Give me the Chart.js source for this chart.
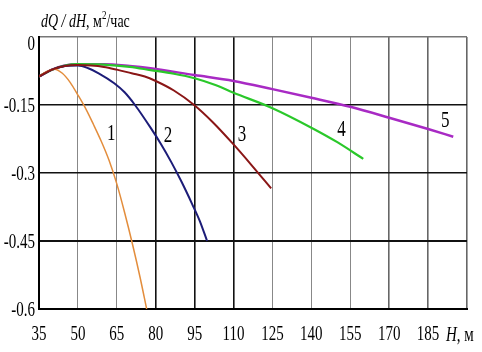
<!DOCTYPE html>
<html>
<head>
<meta charset="utf-8">
<script src="https://cdn.jsdelivr.net/npm/chart.js@4.4.0/dist/chart.umd.min.js"></script>
<style>
  body { margin: 0; background: #fff; }
  canvas { display: block; }
</style>
</head>
<body>
<canvas id="chart" width="482" height="352"></canvas>
<script>
// H, m (x) and dQ/dH (y)
const h1 = [35, 38, 41, 44, 47, 50, 53, 56, 59, 62, 65, 68, 71, 74, 76.5];
const q1 = [-0.087, -0.076, -0.071, -0.080, -0.100, -0.128, -0.158, -0.193, -0.230, -0.272, -0.324, -0.387, -0.456, -0.531, -0.600];

const h2 = [35, 40, 45, 50, 54, 58, 64, 68, 72, 78, 82, 86, 90, 94, 97, 99.8];
const q2 = [-0.087, -0.072, -0.064, -0.063, -0.069, -0.080, -0.102, -0.122, -0.150, -0.200, -0.236, -0.276, -0.320, -0.368, -0.406, -0.450];

const h3 = [35, 40, 45, 50, 55, 60, 65, 70.7, 75.8, 80, 87, 94.8, 102, 110, 117, 124.5];
const q3 = [-0.087, -0.072, -0.064, -0.062, -0.063, -0.066, -0.072, -0.080, -0.087, -0.097, -0.118, -0.150, -0.188, -0.237, -0.283, -0.334];

const h4 = [35, 40, 45, 50, 60, 70, 78, 87, 95, 103, 110, 125, 140, 150, 160];
const q4 = [-0.087, -0.072, -0.063, -0.060, -0.061, -0.066, -0.073, -0.081, -0.091, -0.106, -0.123, -0.157, -0.200, -0.232, -0.269];

const h5 = [35, 40, 45, 50, 60, 70, 78, 95, 110, 125, 140, 155, 170, 185, 194.7];
const q5 = [-0.087, -0.072, -0.063, -0.060, -0.060, -0.064, -0.069, -0.084, -0.097, -0.115, -0.134, -0.154, -0.178, -0.203, -0.220];

// curve numbers and where they sit (data coords)
const curveNames = ['1', '2', '3', '4', '5'];
const nameH = [62.9, 84.7, 113.3, 151.6, 191.6];
const nameQ = [-0.214, -0.218, -0.216, -0.205, -0.185];

const xTicks = [35, 50, 65, 80, 95, 110, 125, 140, 155, 170, 185, 200];
const xTickLabels = ['35', '50', '65', '80', '95', '110', '125', '140', '155', '170', '185', ''];
const yTicks = [-0.6, -0.45, -0.3, -0.15, 0];
const yTickLabels = ['-0.6', '-0.45', '-0.3', '-0.15', '0'];

const SERIF = "'Liberation Serif', 'Times New Roman', serif";
const STRETCH = 1.4;

function pts(hs, qs) {
    return hs.map((h, i) => ({ x: h, y: qs[i] }));
}

function series(hs, qs, color, width, order) {
    return {
        data: pts(hs, qs),
        borderColor: color,
        borderWidth: width,
        pointRadius: 0,
        showLine: true,
        fill: false,
        cubicInterpolationMode: 'monotone',
        order: order
    };
}

// text drawn a bit taller than wide, like the original
function tallText(ctx, text, x, y, font, align, baseline) {
    ctx.save();
    ctx.font = font;
    ctx.textAlign = align;
    ctx.textBaseline = baseline;
    ctx.translate(x, y);
    ctx.scale(1, STRETCH);
    ctx.fillText(text, 0, 0);
    const w = ctx.measureText(text).width;
    ctx.restore();
    return w;
}

const textPlugin = {
    id: 'texts',
    afterDraw(chart) {
        const ctx = chart.ctx;
        const xs = chart.scales.x;
        const ys = chart.scales.y;
        const area = chart.chartArea;
        ctx.fillStyle = '#000';

        xTicks.forEach((v, i) => {
            if (xTickLabels[i]) {
                tallText(ctx, xTickLabels[i], xs.getPixelForValue(v), 334, '15px ' + SERIF, 'center', 'middle');
            }
        });
        // axis name after the last label
        let x = 446;
        x += tallText(ctx, 'H', x, 341, 'italic 15px ' + SERIF, 'left', 'alphabetic');
        tallText(ctx, ', м', x, 341, '15px ' + SERIF, 'left', 'alphabetic');

        yTicks.forEach((v, i) => {
            const y = Math.max(ys.getPixelForValue(v) + 1, area.top + 7);
            tallText(ctx, yTickLabels[i], 35, y, '15px ' + SERIF, 'right', 'middle');
        });

        // y axis title
        x = 41;
        x += tallText(ctx, 'dQ / dH', x, 27, 'italic 14px ' + SERIF, 'left', 'alphabetic');
        x += tallText(ctx, ', м', x, 27, '14px ' + SERIF, 'left', 'alphabetic');
        x += tallText(ctx, '2', x, 19, '9px ' + SERIF, 'left', 'alphabetic');
        tallText(ctx, '/час', x, 27, '14px ' + SERIF, 'left', 'alphabetic');

        curveNames.forEach((name, i) => {
            tallText(ctx, name, xs.getPixelForValue(nameH[i]), ys.getPixelForValue(nameQ[i]),
                '17px ' + SERIF, 'center', 'middle');
        });
    }
};

function xGridColor(v) {
    if (v === 35) return '#000';
    if (v >= 80 && v <= 110) return '#111';
    if (v >= 170) return '#666';
    return '#888';
}
function xGridWidth(v) {
    if (v === 35) return 2;
    if (v >= 80 && v <= 110) return 1.6;
    if (v >= 170) return 1.6;
    return 1;
}
function yGridColor(v) {
    return Math.abs(v) < 1e-9 ? '#777' : '#111';
}
function yGridWidth(v) {
    return v < -0.4 ? 2 : 1.6;
}

new Chart(document.getElementById('chart'), {
    type: 'scatter',
    data: {
        datasets: [
            series(h5, q5, '#a82ac4', 2.5, 5),
            series(h4, q4, '#2ac82a', 2.2, 4),
            series(h2, q2, '#1c1c78', 2, 3),
            series(h1, q1, '#e38d3c', 1.5, 2),
            series(h3, q3, '#8a1616', 2, 1)
        ]
    },
    options: {
        responsive: false,
        animation: false,
        layout: { padding: { top: 37, right: 15, left: 0, bottom: 0 } },
        plugins: {
            legend: { display: false },
            tooltip: { enabled: false }
        },
        scales: {
            x: {
                type: 'linear',
                min: 35,
                max: 200,
                afterBuildTicks: s => { s.ticks = xTicks.map(v => ({ value: v })); },
                afterFit: s => { s.height = 43; },
                ticks: { display: false },
                border: { display: true, color: '#000', width: 2 },
                grid: {
                    drawTicks: false,
                    color: c => xGridColor(c.tick.value),
                    lineWidth: c => xGridWidth(c.tick.value)
                }
            },
            y: {
                type: 'linear',
                min: -0.6,
                max: 0,
                afterBuildTicks: s => { s.ticks = yTicks.map(v => ({ value: v })); },
                afterFit: s => { s.width = 39; },
                ticks: { display: false },
                border: { display: true, color: '#000', width: 2 },
                grid: {
                    drawTicks: false,
                    color: c => yGridColor(c.tick.value),
                    lineWidth: c => yGridWidth(c.tick.value)
                }
            }
        }
    },
    plugins: [textPlugin]
});
</script>
</body>
</html>
